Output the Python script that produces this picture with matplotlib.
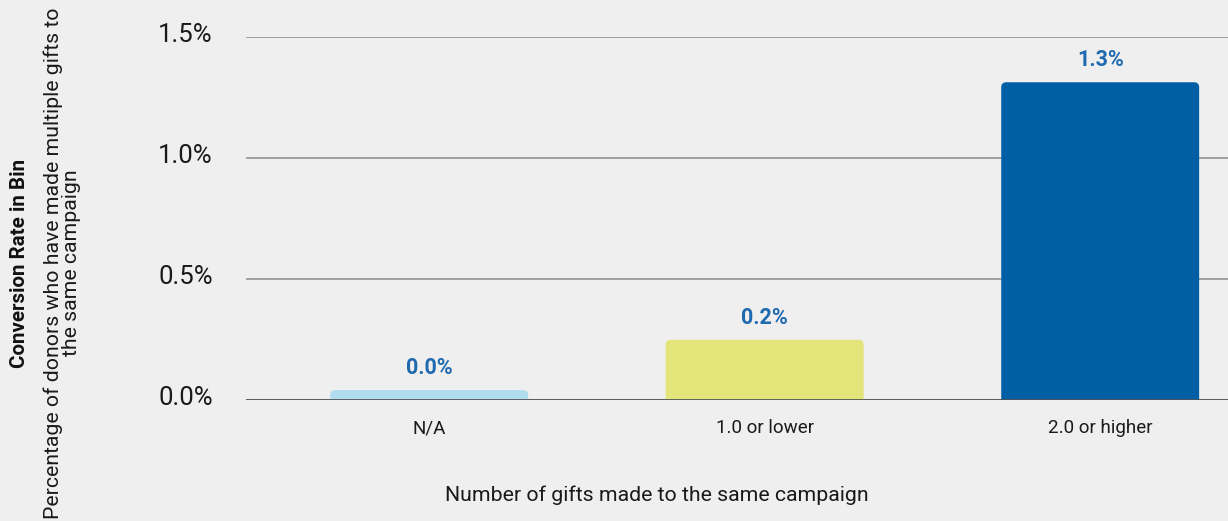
import matplotlib
matplotlib.use("Agg")
import matplotlib.pyplot as plt
from matplotlib.patches import FancyBboxPatch
import matplotlib.transforms as mtransforms
import numpy as np

categories = ["N/A", "1.0 or lower", "2.0 or higher"]
values = [0.041, 0.249, 1.313]
value_labels = ["0.0%", "0.2%", "1.3%"]
colors = ["#b0dcf0", "#e3e57a", "#005ea5"]
yticks = [0.0, 0.5, 1.0, 1.5]

plt.rcParams['font.family'] = ['Roboto', 'DejaVu Sans']

W, H = 1228, 521
fig = plt.figure(figsize=(W / 100, H / 100), dpi=100)
bg = "#efefef"
fig.patch.set_facecolor(bg)

ax_left = 246 / W
ax_bottom = (H - 400) / H
ax_top = (H - 37) / H
ax = fig.add_axes([ax_left, ax_bottom, 1 - ax_left, ax_top - ax_bottom])
ax.set_facecolor(bg)

x = np.arange(len(categories))
bw = 0.59
bars = ax.bar(x, values, width=bw, color=colors, zorder=3)
ax.set_xlim(-0.546, 2.381)
ax.set_ylim(0, 1.5)

# replace bars with rounded-top versions
fig.canvas.draw()
unit_x = ax.transData.transform((1, 0))[0] - ax.transData.transform((0, 0))[0]
unit_y = ax.transData.transform((0, 1))[1] - ax.transData.transform((0, 0))[1]
r_px = 5
for b in bars:
    b.set_visible(False)
    bx, by = b.get_x(), b.get_y()
    bwid, bh = b.get_width(), b.get_height()
    ext = 8 / unit_y
    p = FancyBboxPatch((bx, by - ext), bwid, bh + ext,
                       boxstyle=f"round,pad=0,rounding_size={r_px / unit_x}",
                       mutation_aspect=unit_x / unit_y,
                       facecolor=b.get_facecolor(), edgecolor="none",
                       zorder=3, clip_on=True)
    ax.add_patch(p)

for xi, v, lab in zip(x, values, value_labels):
    ax.annotate(lab, (xi, v), xytext=(0, 11.5), textcoords="offset points",
                ha="center", va="baseline", fontsize=15.5, fontweight="bold",
                color="#1f69ae", zorder=4)

ax.set_yticks(yticks)
ax.set_yticklabels([f"{t:.1f}%" for t in yticks], fontsize=18.5, color="#1a1a1a")
ax.set_xticks(x)
ax.set_xticklabels(categories, fontsize=13.5, color="#1a1a1a")
ax.tick_params(axis="y", length=0, pad=24)
ax.tick_params(axis="x", length=0, pad=14)
offset = mtransforms.ScaledTranslation(0, 3 / 72, fig.dpi_scale_trans)
for lbl in ax.get_yticklabels():
    lbl.set_transform(lbl.get_transform() + offset)

ax.grid(axis="y", color="#9a9a9a", linewidth=1.3, zorder=1)
ax.axhline(0, color="#555555", linewidth=2, zorder=5)
for s in ax.spines.values():
    s.set_visible(False)

fig.text(657 / W, 1 - 495 / H, "Number of gifts made to the same campaign",
         ha="center", va="center", fontsize=15.3, color="#1a1a1a")
fig.text(20 / W, 1 - 263 / H, "Conversion Rate in Bin", rotation=90,
         ha="center", va="center", fontsize=14.8, fontweight="bold", color="#111111")
fig.text(62 / W, 1 - 263 / H,
         "Percentage of donors who have made multiple gifts to\nthe same campaign",
         rotation=90, ha="center", va="center", multialignment="center",
         fontsize=15.3, color="#1a1a1a", linespacing=0.95)

fig.savefig("out.png", dpi=100, facecolor=bg)
